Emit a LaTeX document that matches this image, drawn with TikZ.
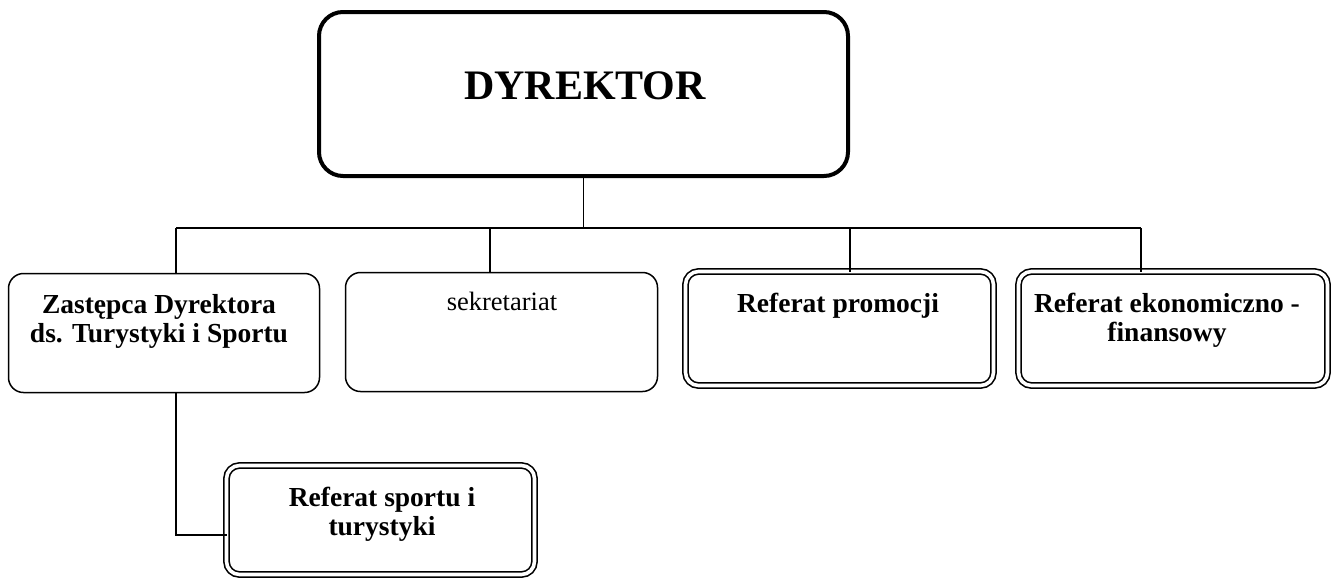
\documentclass[tikz,border=0pt]{standalone}
\usepackage{fontspec}
\setmainfont{Liberation Serif}
\begin{document}
\begin{tikzpicture}[x=1pt,y=-1pt,
  dirbox/.style={draw, rounded corners=24pt, line width=4pt, inner sep=0pt, outer sep=0pt},
  unitbox/.style={draw, rounded corners=15pt, line width=1.5pt, inner sep=0pt, outer sep=0pt},
  dblbox/.style={draw, rounded corners=13pt, line width=1.6pt, double, double distance=3.6pt, inner sep=0pt, outer sep=0pt},
  conn/.style={line width=1.2pt},
  lbl/.style={font=\fontsize{26.5}{29}\selectfont, align=center, inner sep=0pt, anchor=base},
  blbl/.style={lbl, font=\bfseries\fontsize{27.5}{29}\selectfont}
]
\useasboundingbox (0,0) rectangle (1337,581);

% boxes
\node[dirbox, minimum width=529pt, minimum height=164pt] (dyr) at (583.5,94) {};
\node[unitbox, minimum width=311pt, minimum height=119pt] (zast) at (164,333) {};
\node[unitbox, minimum width=312pt, minimum height=119pt] (sekr) at (501.5,332) {};
\node[dblbox, minimum width=308pt, minimum height=114pt] (prom) at (839.5,328.5) {};
\node[dblbox, minimum width=309pt, minimum height=114pt] (ekon) at (1173,328.5) {};
\node[dblbox, minimum width=308pt, minimum height=109pt] (sport) at (380.5,520) {};

% labels (base anchor sits on the last line)
\node[lbl, font=\bfseries\fontsize{42}{48}\selectfont] (tdyr) at (585,99) {DYREKTOR};
\node[blbl] (tzast) at (159,342) {Zastępca Dyrektora\\ds. Turystyki i Sportu};
\node[lbl] (tsekr) at (502,310) {sekretariat};
\node[blbl] (tprom) at (838,312) {Referat promocji};
\node[blbl] (tekon) at (1167,341) {Referat ekonomiczno -\\finansowy};
\node[blbl] (tsport) at (382,535) {Referat sportu i\\turystyki};

% connectors
\coordinate (busL) at (176,228);
\coordinate (d2) at (490,228);
\coordinate (d3) at (850,228);
\coordinate (busR) at (1141,228);
\coordinate (sj) at (176,535);
\draw[conn] (busL) -- (busR);
\draw[conn] (dyr.south) -- (dyr.south |- busL);
\draw[conn] (busL) -- (busL |- zast.north);
\draw[conn] (d2) -- (d2 |- sekr.north);
\draw[conn] (d3) -- (d3 |- prom.north);
\draw[conn] (busR) -- (busR |- ekon.north);
\draw[conn] (busL |- zast.south) -- (sj) -- (sj -| sport.west);
\end{tikzpicture}
\end{document}
